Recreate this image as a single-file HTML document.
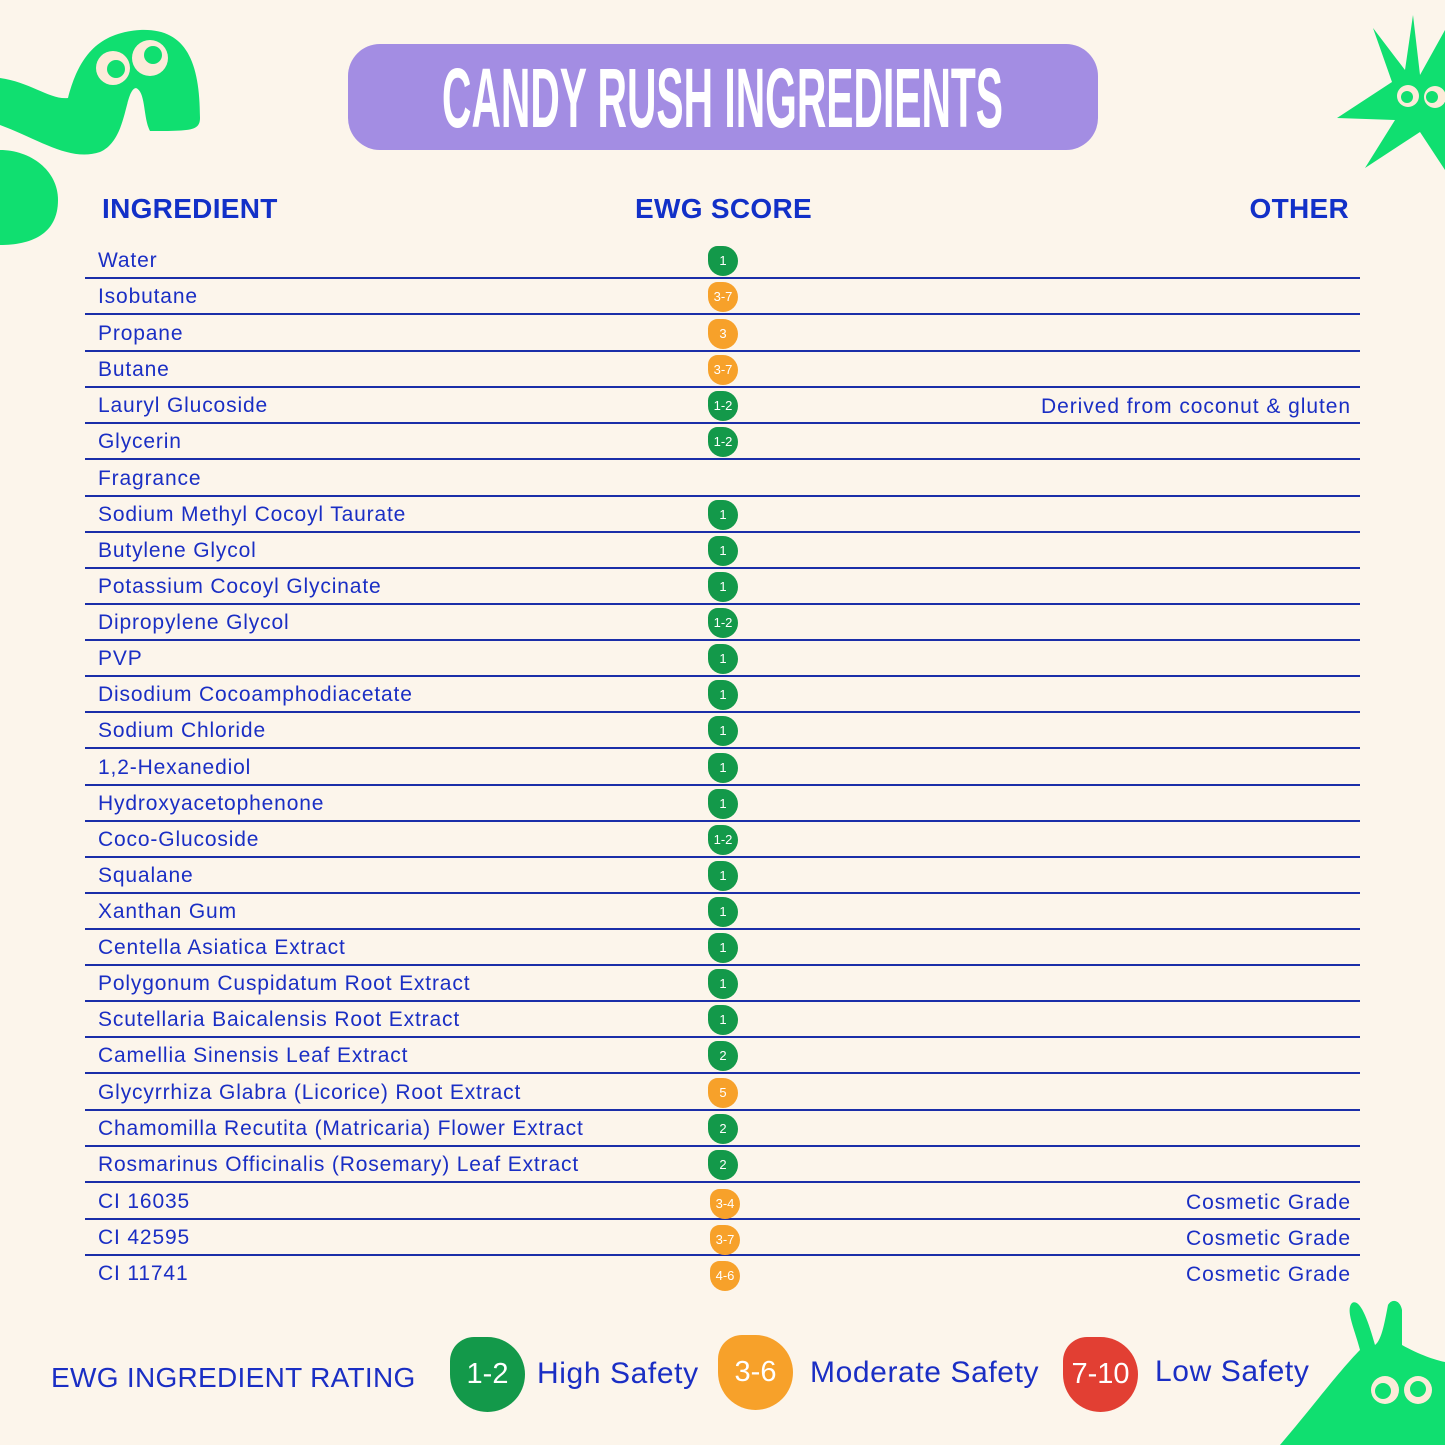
<!DOCTYPE html>
<html><head><meta charset="utf-8"><style>
body{margin:0;background:#fcf5eb;}
#c{position:relative;width:1445px;height:1445px;overflow:hidden;background:#fcf5eb;font-family:"Liberation Sans",sans-serif;color:#1a2ec4;}
.h{position:absolute;top:193px;font-weight:bold;font-size:28px;color:#1230c8;letter-spacing:0.3px;}
.row{position:absolute;left:85px;width:1275px;height:36px;border-bottom:2px solid #1b2ea8;}
.n{position:absolute;left:13px;top:8px;font-size:21px;letter-spacing:0.85px;}
.o{position:absolute;right:9px;top:9px;font-size:21px;letter-spacing:0.95px;}
.b{position:absolute;left:623px;top:5px;width:30px;height:30px;border-radius:32% 50% 50% 50%;color:#fff;font-size:13px;text-align:center;line-height:30px;}
.g{background:#13994a}.y{background:#f7a12a}.r{background:#e23f33}
.lb{position:absolute;top:1337px;width:75px;height:75px;border-radius:32% 50% 50% 50%;color:#fff;font-size:29px;text-align:center;line-height:75px;}
.lt{position:absolute;top:1357px;font-size:30px;color:#1a2ec4;letter-spacing:0.6px;}
</style></head><body><div id="c">
<svg width="1445" height="1445" style="position:absolute;left:0;top:0">
<path fill="#10df70" d="M0,78 C30,82 50,100 68,98 C78,60 95,33 140,30 C185,28 200,60 200,118 C200,131 190,131 150,131 C143,118 146,92 136,88 C124,90 128,140 100,152 C70,162 40,140 0,125 Z"/>
<circle cx="113" cy="68" r="17" fill="#fcebd9"/><circle cx="116" cy="69" r="9" fill="#10df70"/>
<circle cx="150" cy="58" r="18" fill="#fcebd9"/><circle cx="153" cy="55" r="9" fill="#10df70"/>
<path fill="#10df70" d="M0,150 C30,150 58,170 58,200 C58,235 30,245 0,245 Z"/>
<polygon fill="#10df70" points="1413,15 1420,75 1445,30 1445,170 1420,132 1365,168 1395,120 1337,118 1392,82 1373,28 1405,70"/>
<circle cx="1408" cy="96" r="11" fill="#fcebd9"/><circle cx="1407" cy="97" r="6" fill="#10df70"/>
<circle cx="1435" cy="97" r="11" fill="#fcebd9"/><circle cx="1432" cy="97" r="6" fill="#10df70"/>
<path fill="#10df70" d="M1280,1445 C1310,1410 1340,1370 1360,1350 C1355,1330 1345,1310 1352,1303 C1360,1298 1368,1320 1375,1345 C1382,1340 1385,1320 1388,1305 C1392,1298 1400,1300 1402,1310 L1402,1345 C1420,1355 1435,1360 1445,1362 L1445,1445 Z"/>
<circle cx="1385" cy="1390" r="14" fill="#fcebd9"/><circle cx="1383" cy="1391" r="8" fill="#10df70"/>
<circle cx="1418" cy="1390" r="14" fill="#fcebd9"/><circle cx="1418" cy="1389" r="8" fill="#10df70"/>
<rect x="348" y="44" width="750" height="106" rx="32" fill="#a38de3"/>
<text x="442" y="127" font-family="Liberation Sans" font-weight="bold" font-size="84" fill="#fff" textLength="561" lengthAdjust="spacingAndGlyphs">CANDY RUSH INGREDIENTS</text>
</svg>
<div class="h" style="left:102px">INGREDIENT</div>
<div class="h" style="left:635px">EWG SCORE</div>
<div class="h" style="right:96px">OTHER</div>

<div class="row" style="top:241px"><span class="n">Water</span><span class="b g">1</span></div>
<div class="row" style="top:277px"><span class="n">Isobutane</span><span class="b y">3-7</span></div>
<div class="row" style="top:314px"><span class="n">Propane</span><span class="b y">3</span></div>
<div class="row" style="top:350px"><span class="n">Butane</span><span class="b y">3-7</span></div>
<div class="row" style="top:386px"><span class="n">Lauryl Glucoside</span><span class="b g">1-2</span><span class="o">Derived from coconut &amp; gluten</span></div>
<div class="row" style="top:422px"><span class="n">Glycerin</span><span class="b g">1-2</span></div>
<div class="row" style="top:459px"><span class="n">Fragrance</span></div>
<div class="row" style="top:495px"><span class="n">Sodium Methyl Cocoyl Taurate</span><span class="b g">1</span></div>
<div class="row" style="top:531px"><span class="n">Butylene Glycol</span><span class="b g">1</span></div>
<div class="row" style="top:567px"><span class="n">Potassium Cocoyl Glycinate</span><span class="b g">1</span></div>
<div class="row" style="top:603px"><span class="n">Dipropylene Glycol</span><span class="b g">1-2</span></div>
<div class="row" style="top:639px"><span class="n">PVP</span><span class="b g">1</span></div>
<div class="row" style="top:675px"><span class="n">Disodium Cocoamphodiacetate</span><span class="b g">1</span></div>
<div class="row" style="top:711px"><span class="n">Sodium Chloride</span><span class="b g">1</span></div>
<div class="row" style="top:748px"><span class="n">1,2-Hexanediol</span><span class="b g">1</span></div>
<div class="row" style="top:784px"><span class="n">Hydroxyacetophenone</span><span class="b g">1</span></div>
<div class="row" style="top:820px"><span class="n">Coco-Glucoside</span><span class="b g">1-2</span></div>
<div class="row" style="top:856px"><span class="n">Squalane</span><span class="b g">1</span></div>
<div class="row" style="top:892px"><span class="n">Xanthan Gum</span><span class="b g">1</span></div>
<div class="row" style="top:928px"><span class="n">Centella Asiatica Extract</span><span class="b g">1</span></div>
<div class="row" style="top:964px"><span class="n">Polygonum Cuspidatum Root Extract</span><span class="b g">1</span></div>
<div class="row" style="top:1000px"><span class="n">Scutellaria Baicalensis Root Extract</span><span class="b g">1</span></div>
<div class="row" style="top:1036px"><span class="n">Camellia Sinensis Leaf Extract</span><span class="b g">2</span></div>
<div class="row" style="top:1073px"><span class="n">Glycyrrhiza Glabra (Licorice) Root Extract</span><span class="b y">5</span></div>
<div class="row" style="top:1109px"><span class="n">Chamomilla Recutita (Matricaria) Flower Extract</span><span class="b g">2</span></div>
<div class="row" style="top:1145px"><span class="n">Rosmarinus Officinalis (Rosemary) Leaf Extract</span><span class="b g">2</span></div>
<div class="row" style="top:1182px"><span class="n">CI 16035</span><span class="b y" style="left:625px;top:7px">3-4</span><span class="o">Cosmetic Grade</span></div>
<div class="row" style="top:1218px"><span class="n">CI 42595</span><span class="b y" style="left:625px;top:7px">3-7</span><span class="o">Cosmetic Grade</span></div>
<div class="row" style="top:1254px;border-bottom:none"><span class="n">CI 11741</span><span class="b y" style="left:625px;top:7px">4-6</span><span class="o">Cosmetic Grade</span></div>

<div class="lt" style="left:51px;top:1362px;font-size:28px;letter-spacing:0.3px">EWG INGREDIENT RATING</div>
<div class="lb g" style="left:450px">1-2</div><div class="lt" style="left:537px">High Safety</div>
<div class="lb y" style="left:718px;top:1335px">3-6</div><div class="lt" style="left:810px;top:1356px">Moderate Safety</div>
<div class="lb r" style="left:1063px;top:1337px">7-10</div><div class="lt" style="left:1155px;top:1355px">Low Safety</div>
</div></body></html>
